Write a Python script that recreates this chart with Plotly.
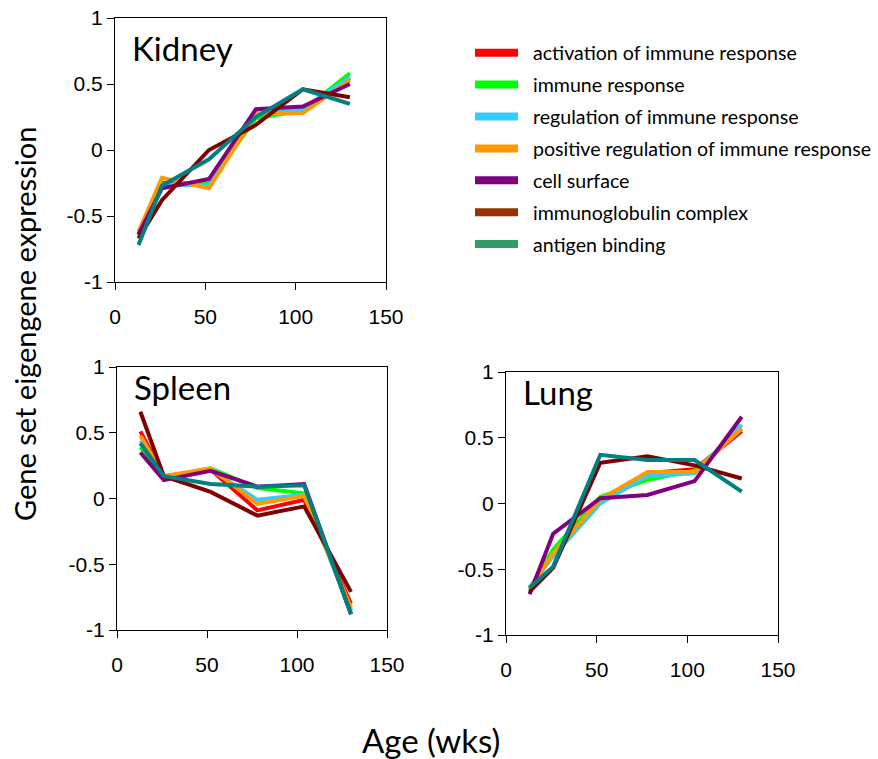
import plotly.graph_objects as go

ages = [13, 26, 52, 78, 104, 130]

series_names = [
    "activation of immune response",
    "immune response",
    "regulation of immune response",
    "positive regulation of immune response",
    "cell surface",
    "immunoglobulin complex",
    "antigen binding",
]
line_colors = ["#FF0000", "#00FF00", "#33CCFF", "#FF9900", "#800080", "#800000", "#008080"]
legend_colors = ["#FF0000", "#00FF00", "#33CCFF", "#FF9900", "#800080", "#993300", "#339966"]

kidney = [
    [-0.64, -0.25, -0.26, 0.29, 0.30, 0.55],
    [-0.65, -0.27, -0.25, 0.24, 0.30, 0.58],
    [-0.62, -0.26, -0.27, 0.28, 0.31, 0.55],
    [-0.62, -0.21, -0.29, 0.27, 0.28, 0.53],
    [-0.64, -0.29, -0.22, 0.31, 0.33, 0.50],
    [-0.67, -0.38, 0.00, 0.19, 0.46, 0.40],
    [-0.72, -0.27, -0.07, 0.25, 0.46, 0.35],
]
spleen = [
    [0.51, 0.17, 0.22, -0.09, -0.01, -0.80],
    [0.39, 0.16, 0.23, 0.08, 0.04, -0.86],
    [0.44, 0.17, 0.22, -0.01, 0.03, -0.85],
    [0.48, 0.17, 0.23, -0.04, 0.02, -0.83],
    [0.35, 0.14, 0.21, 0.09, 0.11, -0.88],
    [0.66, 0.17, 0.05, -0.13, -0.06, -0.71],
    [0.42, 0.17, 0.11, 0.09, 0.10, -0.88],
]
lung = [
    [-0.65, -0.38, 0.03, 0.23, 0.26, 0.55],
    [-0.65, -0.35, 0.05, 0.18, 0.25, 0.57],
    [-0.64, -0.40, 0.00, 0.21, 0.23, 0.60],
    [-0.65, -0.38, 0.03, 0.24, 0.24, 0.57],
    [-0.69, -0.23, 0.04, 0.065, 0.17, 0.66],
    [-0.67, -0.49, 0.31, 0.36, 0.29, 0.19],
    [-0.64, -0.48, 0.37, 0.33, 0.33, 0.09],
]
panel_titles = ["Kidney", "Spleen", "Lung"]
x_ticks = [0, 50, 100, 150]
y_ticks = [-1, -0.5, 0, 0.5, 1]
y_ticktext = ["-1", "-0.5", "0", "0.5", "1"]

W, H = 878, 759
def px(x):
    return x / W
def py(y):
    return 1 - y / H

# panel boxes in pixels: left, right, top, bottom
boxes = [(115, 386, 18, 282), (117, 387, 367, 630), (506, 778, 372, 635)]
title_offsets = [52, 42, 42]
datasets = [kidney, spleen, lung]

fig = go.Figure()
TEXT_FONT = "Lato"
TICK_FONT = "Liberation Sans"

for p, (data, box) in enumerate(zip(datasets, boxes)):
    suffix = "" if p == 0 else str(p + 1)
    for i, ys in enumerate(data):
        fig.add_trace(go.Scatter(
            x=ages, y=ys, mode="lines", name=series_names[i],
            line=dict(color=line_colors[i], width=4),
            xaxis="x" + suffix, yaxis="y" + suffix, showlegend=False,
        ))
    l, r, t, b = box
    common = dict(showline=True, linecolor="black", linewidth=1, mirror=True,
                  ticks="outside", ticklen=7, tickcolor="black", tickwidth=1,
                  showgrid=False, zeroline=False, automargin=False,
                  tickfont=dict(family=TICK_FONT, size=21, color="black"))
    fig.update_layout(**{
        "xaxis" + suffix: dict(domain=[px(l), px(r)], range=[0, 150], tickvals=x_ticks,
                               anchor="y" + suffix, ticklabelstandoff=9, **common),
        "yaxis" + suffix: dict(domain=[py(b), py(t)], range=[-1, 1], tickvals=y_ticks,
                               ticktext=y_ticktext, anchor="x" + suffix, **common),
    })
    fig.add_annotation(x=px(l + 15), y=py(t + title_offsets[p]), xref="paper", yref="paper",
                       text=panel_titles[p], showarrow=False, xanchor="left", yanchor="bottom",
                       font=dict(family=TEXT_FONT, size=33, color="black"))

# legend drawn by hand
for i, name in enumerate(series_names):
    yc = 52.7 + i * 31.9
    fig.add_shape(type="line", xref="paper", yref="paper",
                  x0=px(475), x1=px(518), y0=py(yc), y1=py(yc),
                  line=dict(color=legend_colors[i], width=8))
    fig.add_annotation(x=px(531), y=py(yc), xref="paper", yref="paper", text=name,
                       showarrow=False, xanchor="left", yanchor="middle",
                       font=dict(family=TEXT_FONT, size=19.6, color="black"))

fig.add_annotation(x=px(24), y=py(324), xref="paper", yref="paper",
                   text="Gene set eigengene expression", textangle=-90, showarrow=False,
                   xanchor="center", yanchor="middle",
                   font=dict(family=TEXT_FONT, size=29, color="black"))
fig.add_annotation(x=px(431), y=py(740), xref="paper", yref="paper",
                   text="Age (wks)", showarrow=False, xanchor="center", yanchor="middle",
                   font=dict(family=TEXT_FONT, size=33, color="black"))

fig.update_layout(width=W, height=H, margin=dict(l=0, r=0, t=0, b=0),
                  paper_bgcolor="white", plot_bgcolor="white", showlegend=False)
fig.write_html("out.html")
